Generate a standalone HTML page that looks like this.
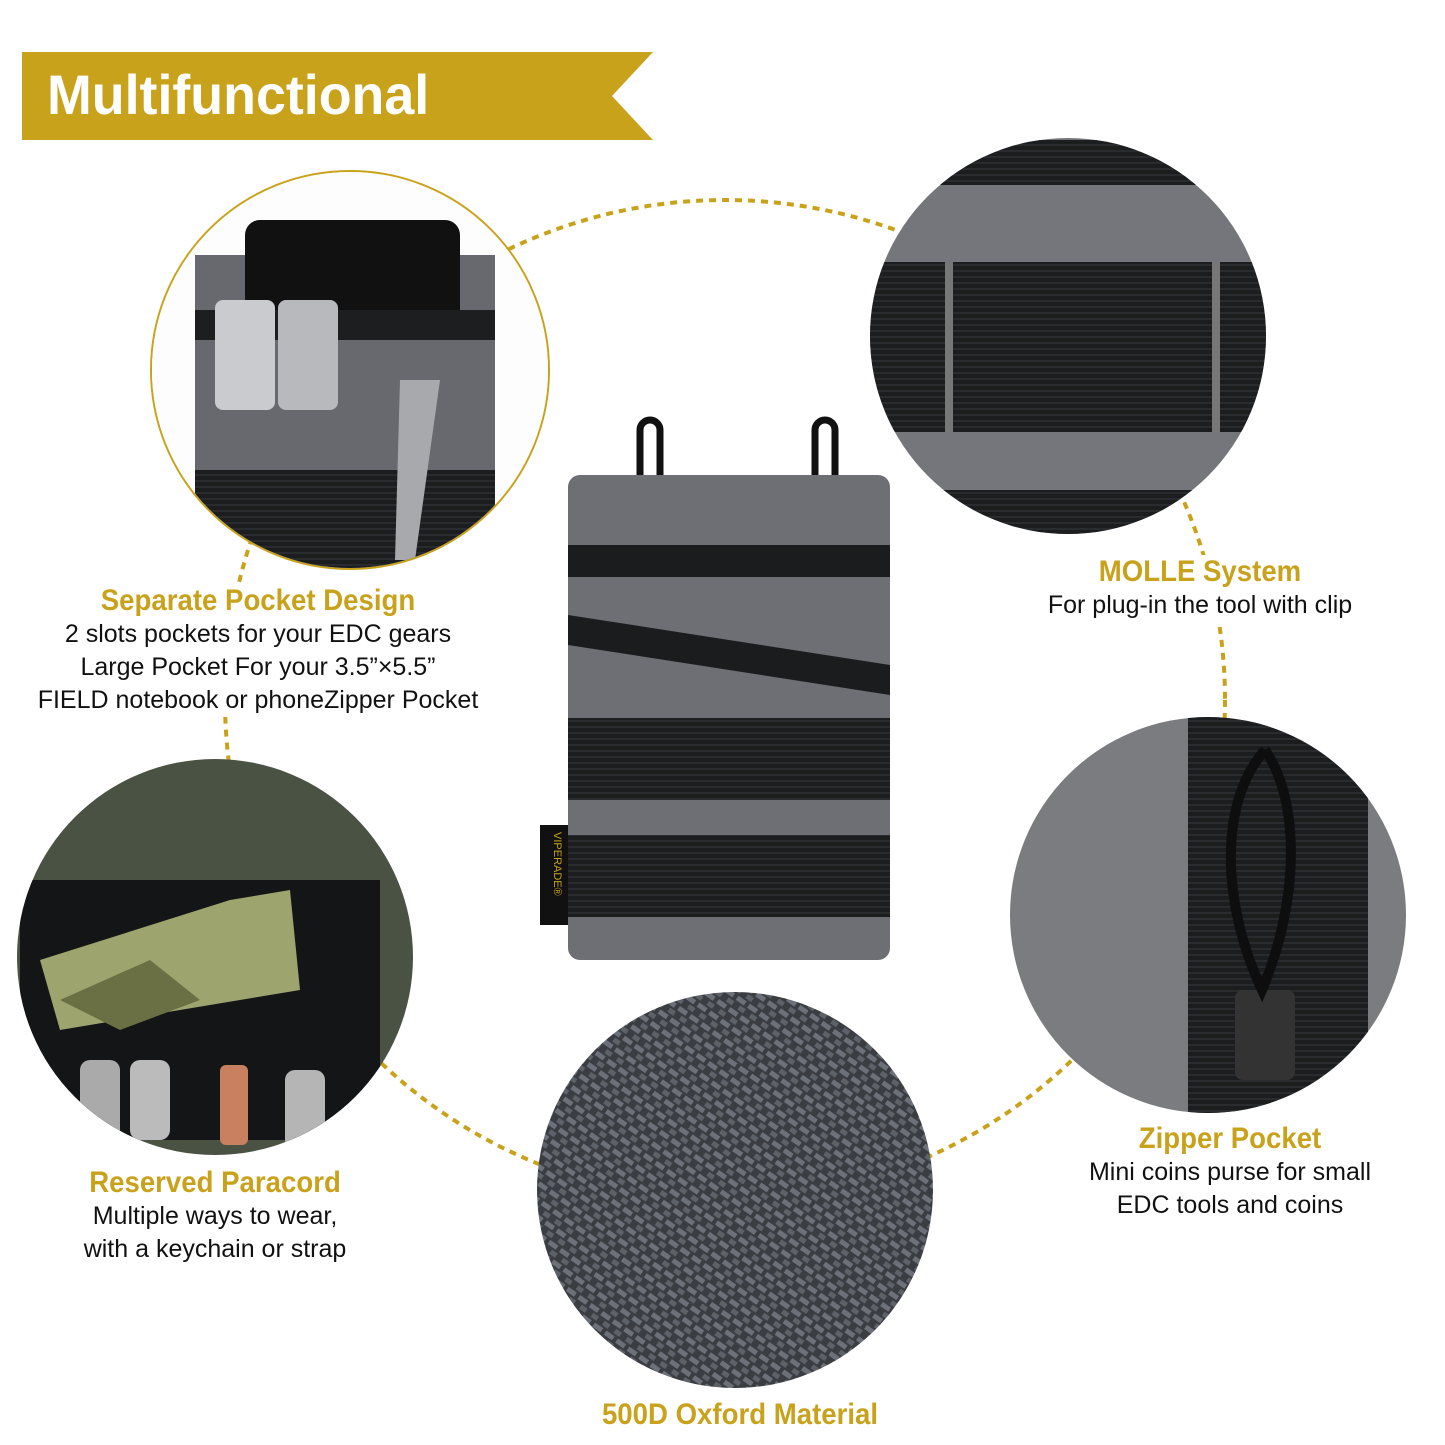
<!DOCTYPE html>
<html><head><meta charset="utf-8"><style>
body{margin:0;width:1445px;height:1445px;background:#fff;position:relative;overflow:hidden;font-family:"Liberation Sans Narrow","Liberation Sans",sans-serif}
.t{position:absolute;text-align:center;white-space:nowrap}
.g{color:#c9a21c;font-weight:bold;font-size:30px;transform:scaleX(.92)}
.b{color:#111;font-size:25px;line-height:33px}
</style></head><body>
<svg width="1445" height="1445" style="position:absolute;left:0;top:0">
<defs>
<pattern id="weave" width="14" height="14" patternUnits="userSpaceOnUse" patternTransform="rotate(35)">
<rect width="14" height="14" fill="#3a3d42"/><rect width="10" height="5" fill="#6c7078"/><rect x="7" y="7" width="10" height="5" fill="#5d6168"/></pattern>
<pattern id="strap" width="6" height="6" patternUnits="userSpaceOnUse"><rect width="6" height="6" fill="#1c1d1f"/><rect width="6" height="2" fill="#2a2b2e"/></pattern>
</defs>
<polygon points="22,52 653,52 612,96 653,140 22,140" fill="#c9a21c"/>
<circle cx="725" cy="700" r="500" fill="none" stroke="#c9a21c" stroke-width="4" stroke-dasharray="7,6"/>
<circle cx="350" cy="370" r="199" fill="#fff" stroke="#c9a21c" stroke-width="2"/>
<clipPath id="c1"><circle cx="350" cy="370" r="198"/></clipPath>
<g clip-path="url(#c1)">
<rect x="150" y="170" width="400" height="400" fill="#fdfdfd"/>
<rect x="195" y="255" width="300" height="320" fill="#67696e"/>
<rect x="245" y="220" width="215" height="120" rx="15" fill="#111"/>
<rect x="195" y="310" width="300" height="30" fill="#1d1e20"/>
<rect x="195" y="470" width="300" height="100" fill="url(#strap)"/>
<rect x="215" y="300" width="60" height="110" rx="8" fill="#c9cbcf"/>
<rect x="278" y="300" width="60" height="110" rx="8" fill="#b7b9bd"/>
<polygon points="400,380 440,380 415,560 395,560" fill="#a7a9ad"/>
</g>
<clipPath id="c2"><circle cx="1068" cy="336" r="198"/></clipPath>
<g clip-path="url(#c2)">
<rect x="860" y="130" width="420" height="420" fill="#74767b"/>
<rect x="860" y="140" width="420" height="45" fill="url(#strap)"/>
<rect x="860" y="262" width="420" height="170" fill="url(#strap)"/>
<rect x="860" y="490" width="420" height="50" fill="url(#strap)"/>
<rect x="945" y="262" width="8" height="170" fill="#777"/>
<rect x="1212" y="262" width="8" height="170" fill="#777"/>
</g>
<clipPath id="c3"><circle cx="215" cy="957" r="198"/></clipPath>
<g clip-path="url(#c3)">
<rect x="10" y="750" width="420" height="420" fill="#4a5244"/>
<rect x="20" y="880" width="360" height="260" fill="#141516"/>
<polygon points="40,960 230,900 290,890 300,990 60,1030" fill="#9ea46e"/>
<polygon points="60,1000 150,960 200,1000 120,1030" fill="#6a6f44"/>
<rect x="80" y="1060" width="40" height="80" rx="10" fill="#aaa"/>
<rect x="130" y="1060" width="40" height="80" rx="10" fill="#bbb"/>
<rect x="220" y="1065" width="28" height="80" rx="6" fill="#c98060"/>
<rect x="285" y="1070" width="40" height="80" rx="10" fill="#b5b5b5"/>
</g>
<clipPath id="c4"><circle cx="1208" cy="915" r="198"/></clipPath>
<g clip-path="url(#c4)">
<rect x="1000" y="710" width="420" height="420" fill="#7a7c80"/>
<rect x="1188" y="710" width="180" height="420" fill="url(#strap)"/>
<rect x="1235" y="990" width="60" height="90" rx="8" fill="#333"/>
<path d="M1265 750 C1220 800 1220 900 1262 990 C1300 900 1300 800 1265 750" stroke="#0e0e0e" stroke-width="10" fill="none"/>
</g>
<clipPath id="c5"><circle cx="735" cy="1190" r="198"/></clipPath>
<g clip-path="url(#c5)"><rect x="530" y="985" width="410" height="410" fill="url(#weave)"/></g>
<path d="M640 480 v-50 a10 10 0 0 1 20 0 v50" stroke="#111" stroke-width="7" fill="none"/>
<path d="M815 480 v-50 a10 10 0 0 1 20 0 v50" stroke="#111" stroke-width="7" fill="none"/>
<rect x="568" y="475" width="322" height="485" rx="12" fill="#6d6f74"/>
<rect x="568" y="545" width="322" height="32" fill="#1b1c1e"/>
<polygon points="568,615 890,665 890,695 568,645" fill="#1b1c1e"/>
<rect x="568" y="718" width="322" height="82" fill="url(#strap)"/>
<rect x="568" y="835" width="322" height="82" fill="url(#strap)"/>
<rect x="540" y="825" width="28" height="100" fill="#111"/>
<text x="0" y="0" transform="translate(554,832) rotate(90)" fill="#c9a21c" font-size="11" font-family="Liberation Sans">VIPERADE®</text>
</svg>
<div class="t" style="left:47px;top:62px;color:#fff;font-weight:bold;font-size:56px;font-family:'Liberation Sans',sans-serif;transform:scaleX(.96);transform-origin:left">Multifunctional</div>
<div class="t" style="left:28px;width:460px;top:584px;background:#fff"><div class="g">Separate Pocket Design</div><div class="b">2 slots pockets for your EDC gears<br>Large Pocket For your 3.5”×5.5”<br>FIELD notebook or phoneZipper Pocket</div></div>
<div class="t" style="left:1030px;width:340px;top:555px;background:#fff"><div class="g">MOLLE System</div><div class="b">For plug-in the tool with clip</div></div>
<div class="t" style="left:60px;width:310px;top:1166px;background:#fff"><div class="g">Reserved Paracord</div><div class="b">Multiple ways to wear,<br>with a keychain or strap</div></div>
<div class="t" style="left:1080px;width:300px;top:1122px;background:#fff"><div class="g">Zipper Pocket</div><div class="b">Mini coins purse for small<br>EDC tools and coins</div></div>
<div class="t g" style="left:580px;width:320px;top:1398px">500D Oxford Material</div>
</body></html>
